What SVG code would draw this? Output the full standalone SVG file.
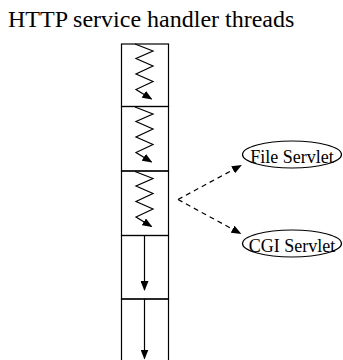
<svg xmlns="http://www.w3.org/2000/svg" width="343" height="360" viewBox="0 0 343 360">
  <style>
    .ln { fill: none; stroke: #000; stroke-width: 1.2; }
    .dash { fill: none; stroke: #000; stroke-width: 1.2; stroke-dasharray: 5 4; }
    .lbl { font-family: "Liberation Serif", "Times New Roman", serif; fill: #000; }
  </style>
  <defs>
    <marker id="ah" markerUnits="userSpaceOnUse" markerWidth="10" markerHeight="8" refX="9" refY="4" orient="auto">
      <path d="M0,0 L10,4 L0,8 z" fill="#000"/>
    </marker>
    <!-- thread zigzag, relative to the top of its slot -->
    <polyline id="zig" class="ln" points="135,0 153,7 136,14.5 153,22 136,30 153,37.5 136,45.5 151.5,55" marker-end="url(#ah)"/>
  </defs>

  <rect width="343" height="360" fill="#fff"/>

  <text class="lbl" x="8" y="27" font-size="24">HTTP service handler threads</text>

  <!-- thread pool column -->
  <g id="slot1">
    <rect class="ln" x="121.5" y="44" width="47" height="62.5"/>
    <use href="#zig" y="44"/>
  </g>
  <g id="slot2">
    <rect class="ln" x="121.5" y="106.5" width="47" height="64.5"/>
    <use href="#zig" y="107"/>
  </g>
  <g id="slot3">
    <rect class="ln" x="121.5" y="171" width="47" height="64.5"/>
    <use href="#zig" y="171.5"/>
  </g>
  <g id="slot4">
    <rect class="ln" x="121.5" y="235.5" width="47" height="63.5"/>
    <line class="ln" x1="144.5" y1="235.5" x2="144.5" y2="290" marker-end="url(#ah)"/>
  </g>
  <g id="slot5">
    <rect class="ln" x="121.5" y="299" width="47" height="64"/>
    <line class="ln" x1="144.5" y1="299" x2="144.5" y2="358.5" marker-end="url(#ah)"/>
  </g>

  <!-- servlets -->
  <g id="file-servlet">
    <ellipse class="ln" cx="292" cy="154.5" rx="49.5" ry="13.5"/>
    <text class="lbl" x="292" y="163" font-size="18" text-anchor="middle">File Servlet</text>
  </g>
  <g id="cgi-servlet">
    <ellipse class="ln" cx="292" cy="243.5" rx="49.5" ry="13.5"/>
    <text class="lbl" x="292" y="252" font-size="18" text-anchor="middle">CGI Servlet</text>
  </g>

  <!-- dispatch connectors -->
  <g id="connectors">
    <line class="dash" x1="178" y1="199.5" x2="241" y2="165.5" marker-end="url(#ah)"/>
    <line class="dash" x1="178" y1="199.5" x2="240.5" y2="233.5" marker-end="url(#ah)"/>
  </g>
</svg>
